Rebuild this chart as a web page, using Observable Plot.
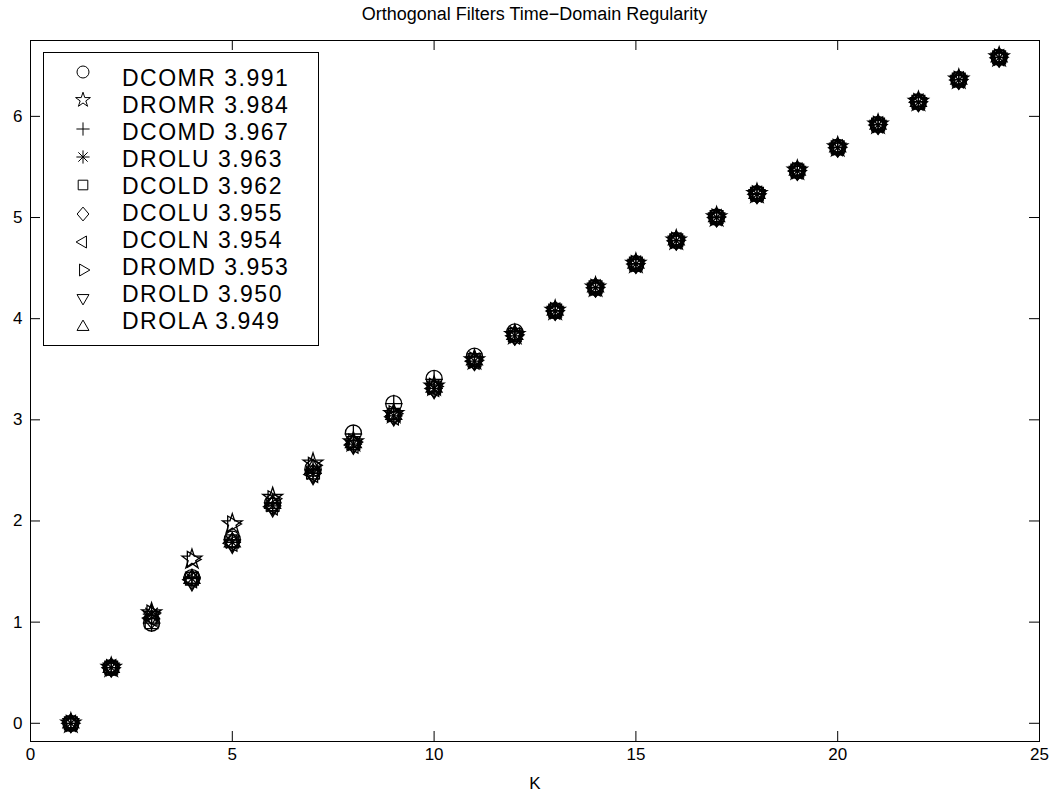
<!DOCTYPE html>
<html><head><meta charset="utf-8">
<script src="https://cdn.jsdelivr.net/npm/d3@7"></script>
<script src="https://cdn.jsdelivr.net/npm/@observablehq/plot@0.6"></script>
<style>
body{margin:0;background:#fff;font-family:"Liberation Sans",Arial,Helvetica,sans-serif;}
#wrap{position:relative;width:1059px;height:795px;overflow:hidden;background:#fff;}
#title{position:absolute;left:30px;width:1009px;top:3px;text-align:center;font-size:18px;line-height:22px;color:#000;}
#chart{position:absolute;left:0;top:30px;}
#legend{position:absolute;left:43px;top:52px;width:274px;height:292px;border:1px solid #000;background:#fff;}
.lrow{position:absolute;left:78px;font-size:23px;letter-spacing:1.5px;line-height:26px;height:26px;white-space:nowrap;color:#000;}
.lsym{position:absolute;}
</style></head>
<body><div id="wrap"><div id="title">Orthogonal Filters Time−Domain Regularity</div><div id="chart"></div><div id="legend"></div></div>
<script>
const K = [1,2,3,4,5,6,7,8,9,10,11,12,13,14,15,16,17,18,19,20,21,22,23,24];
const names  = ["DCOMR","DROMR","DCOMD","DROLU","DCOLD","DCOLU","DCOLN","DROMD","DROLD","DROLA"];
const scores = ["3.991","3.984","3.967","3.963","3.962","3.955","3.954","3.953","3.950","3.949"];
const DCOMR = [0,0.55,0.99,1.44,1.82,2.18,2.52,2.87,3.16,3.41,3.63,3.87,4.08,4.31,4.545,4.775,5.005,5.235,5.465,5.695,5.92,6.145,6.365,6.585];
const DROMR = [0,0.55,1.09,1.62,1.97,2.23,2.57,2.78,3.06,3.33,3.59,3.84,4.08,4.31,4.545,4.775,5.005,5.235,5.465,5.695,5.92,6.145,6.365,6.585];
const DCOMD = [0,0.55,0.99,1.44,1.81,2.18,2.51,2.86,3.16,3.40,3.62,3.86,4.08,4.31,4.545,4.775,5.005,5.235,5.465,5.695,5.92,6.145,6.365,6.585];
const DROLU = [0,0.55,1.08,1.43,1.79,2.15,2.47,2.76,3.04,3.31,3.58,3.83,4.075,4.305,4.54,4.77,5.0,5.23,5.46,5.69,5.915,6.14,6.36,6.58];
const DCOLD = [0,0.55,1.00,1.43,1.80,2.16,2.48,2.77,3.05,3.32,3.59,3.84,4.08,4.31,4.545,4.775,5.005,5.235,5.465,5.695,5.92,6.145,6.365,6.585];
const DCOLU = [0,0.55,1.03,1.42,1.79,2.15,2.47,2.76,3.04,3.31,3.58,3.83,4.075,4.305,4.54,4.77,5.0,5.23,5.46,5.69,5.915,6.14,6.36,6.58];
const DCOLN = [0,0.55,1.04,1.42,1.78,2.14,2.46,2.75,3.03,3.31,3.58,3.83,4.075,4.305,4.54,4.77,5.0,5.23,5.46,5.69,5.915,6.14,6.36,6.58];
const DROMD = [0,0.55,1.09,1.62,1.97,2.22,2.55,2.78,3.06,3.33,3.59,3.84,4.08,4.31,4.545,4.775,5.005,5.235,5.465,5.695,5.92,6.145,6.365,6.585];
const DROLD = [0,0.55,1.06,1.40,1.77,2.13,2.45,2.75,3.03,3.30,3.58,3.83,4.075,4.305,4.54,4.77,5.0,5.23,5.46,5.69,5.915,6.14,6.36,6.58];
const DROLA = [0,0.55,1.08,1.43,1.79,2.17,2.52,2.77,3.05,3.32,3.59,3.84,4.08,4.31,4.545,4.775,5.005,5.235,5.465,5.695,5.92,6.145,6.365,6.585];
const series = [DCOMR,DROMR,DCOMD,DROLU,DCOLD,DCOLU,DCOLN,DROMD,DROLD,DROLA];
const xTicks = [0,5,10,15,20,25];
const yTicks = [0,1,2,3,4,5,6];

// symbol shapes (MATLAB-like)
function rad(size){return Math.sqrt(size/Math.PI);}
function tri(angle){
  return {draw(c,size){const R=rad(size)*1.15;
    for(let j=0;j<3;j++){const a=(angle+j*120)*Math.PI/180;const px=R*Math.cos(a),py=R*Math.sin(a);
      if(j===0)c.moveTo(px,py);else c.lineTo(px,py);}c.closePath();}};
}
const symbols = [
  {draw(c,size){const r=rad(size);c.moveTo(r,0);c.arc(0,0,r,0,2*Math.PI);}},
  {draw(c,size){const R=rad(size)*1.3,ri=R*0.382;
    for(let j=0;j<10;j++){const a=(-90+j*36)*Math.PI/180;const rr=j%2?ri:R;
      const px=rr*Math.cos(a),py=rr*Math.sin(a);if(j===0)c.moveTo(px,py);else c.lineTo(px,py);}c.closePath();}},
  {draw(c,size){const r=rad(size)*1.1;c.moveTo(-r,0);c.lineTo(r,0);c.moveTo(0,-r);c.lineTo(0,r);}},
  {draw(c,size){const r=rad(size)*1.1;
    for(let j=0;j<4;j++){const a=j*45*Math.PI/180;c.moveTo(-r*Math.cos(a),-r*Math.sin(a));c.lineTo(r*Math.cos(a),r*Math.sin(a));}}},
  {draw(c,size){const s=rad(size)*0.8;c.rect(-s,-s,2*s,2*s);}},
  {draw(c,size){const R=rad(size)*1.15;c.moveTo(0,-R);c.lineTo(R*0.85,0);c.lineTo(0,R);c.lineTo(-R*0.85,0);c.closePath();}},
  tri(180),  // left
  tri(0),    // right
  tri(90),   // down
  tri(-90)   // up
];

const W=1059,H=765,mL=30,mR=20,mT=10,mB=54;
const innerW=W-mL-mR, innerH=H-mT-mB;

const dots = series.map((vals,i)=>Plot.dot(K.map((k,j)=>({k, v: vals[j]})),
  {x:"k", y:"v", r:8, symbol:symbols[i], fill:"none", stroke:"black", strokeWidth:1.3}));

const chart = Plot.plot({
  width:W, height:H, marginLeft:mL, marginRight:mR, marginTop:mT, marginBottom:mB,
  style:{fontFamily:'"Liberation Sans",Arial,Helvetica,sans-serif', fontSize:"17px", color:"black", background:"white"},
  x:{domain:[0,25]},
  y:{domain:[-0.18,6.75]},
  marks:[
    Plot.frame({stroke:"black", strokeWidth:1}),
    Plot.ruleX(xTicks,{x:d=>d, insetTop:innerH-10, stroke:"black"}),
    Plot.ruleX(xTicks,{x:d=>d, insetBottom:innerH-10, stroke:"black"}),
    Plot.ruleY(yTicks,{y:d=>d, insetRight:innerW-10, stroke:"black"}),
    Plot.ruleY(yTicks,{y:d=>d, insetLeft:innerW-10, stroke:"black"}),
    Plot.axisX({ticks:xTicks, tickSize:0, tickPadding:6, tickFormat:d=>String(d), label:"K", labelAnchor:"center", labelOffset:47, labelArrow:"none"}),
    Plot.axisY({ticks:yTicks, tickSize:0, tickPadding:8, tickFormat:d=>String(d), label:null}),
    ...dots
  ]
});
document.getElementById("chart").appendChild(chart);

// legend
const leg = document.getElementById("legend");
names.forEach((n,i)=>{
  const cy = 72 + 28.3*i - 53, cx = 83 - 44;
  const p = d3.path(); symbols[i].draw(p, Math.PI*36);
  const s = document.createElementNS("http://www.w3.org/2000/svg","svg");
  s.setAttribute("width",24); s.setAttribute("height",24);
  s.setAttribute("class","lsym");
  s.style.left=(cx-12)+"px"; s.style.top=(cy-12)+"px";
  const path=document.createElementNS("http://www.w3.org/2000/svg","path");
  path.setAttribute("d",p.toString()); path.setAttribute("transform","translate(12,12)");
  path.setAttribute("fill","none"); path.setAttribute("stroke","black"); path.setAttribute("stroke-width","1");
  s.appendChild(path); leg.appendChild(s);
  const t=document.createElement("div"); t.className="lrow";
  t.style.top=(78+27*i-53-13)+"px"; t.textContent=n+" "+scores[i];
  leg.appendChild(t);
});
</script>
</body></html>
